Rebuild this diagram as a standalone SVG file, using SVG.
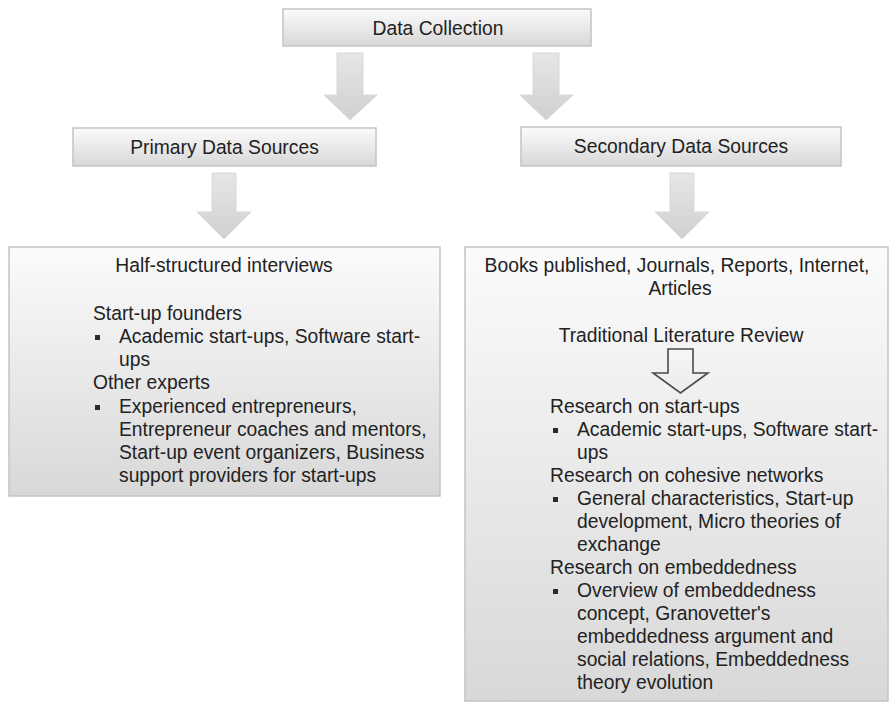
<svg xmlns="http://www.w3.org/2000/svg" width="890" height="705" viewBox="0 0 890 705">
  <defs>
    <linearGradient id="boxFill" x1="0" y1="0" x2="0" y2="1">
      <stop offset="0" stop-color="#fbfbfb"/>
      <stop offset="1" stop-color="#d8d8d8"/>
    </linearGradient>
    <linearGradient id="arrowFill" x1="0" y1="0" x2="0" y2="1">
      <stop offset="0" stop-color="#e6e6e6"/>
      <stop offset="1" stop-color="#d0d0d0"/>
    </linearGradient>
    <linearGradient id="hollowFill" x1="0" y1="0" x2="0" y2="1">
      <stop offset="0" stop-color="#f7f7f7"/>
      <stop offset="1" stop-color="#ebebeb"/>
    </linearGradient>
  </defs>
  <style>
    .box { fill: url(#boxFill); stroke: #c4c4c4; stroke-width: 1.5; }
    .arrow { fill: url(#arrowFill); stroke: #d8d8d8; stroke-width: 1; }
    .hollow { fill: url(#hollowFill); stroke: #4a4a4a; stroke-width: 1.6; stroke-linejoin: miter; }
    text { font-family: "Liberation Sans", Arial, sans-serif; font-size: 19.3px; fill: #222222; }
    .c { text-anchor: middle; }
    .bullet { fill: #2a2a2a; }
  </style>

  <!-- block arrows between the levels -->
  <g id="connectors">
    <polygon class="arrow" points="337,53 363,53 363,95 377,95 350,120 324,95 337,95"/>
    <polygon class="arrow" points="533,53 559,53 559,95 573,95 546,120 520,95 533,95"/>
    <polygon class="arrow" points="212,173 236,173 236,212 251,212 224,239 197,212 212,212"/>
    <polygon class="arrow" points="670,173 694,173 694,212 709,212 682,239 655,212 670,212"/>
  </g>

  <g id="data-collection">
    <rect class="box" x="283" y="9" width="308" height="37"/>
    <text class="c" x="438" y="35">Data Collection</text>
  </g>

  <g id="primary-sources">
    <rect class="box" x="73" y="128" width="303" height="38"/>
    <text class="c" x="224.5" y="154">Primary Data Sources</text>
  </g>

  <g id="secondary-sources">
    <rect class="box" x="521" y="127" width="320" height="39"/>
    <text class="c" x="681" y="153">Secondary Data Sources</text>
  </g>

  <g id="primary-details">
    <rect class="box" x="9" y="247" width="431" height="249"/>
    <text class="c" x="224" y="272">Half-structured interviews</text>
    <text x="93" y="320">Start-up founders</text>
    <rect class="bullet" x="95" y="335" width="5" height="5"/>
    <text x="119" y="343">Academic start-ups, Software start-</text>
    <text x="119" y="366">ups</text>
    <text x="93" y="389">Other experts</text>
    <rect class="bullet" x="95" y="405" width="5" height="5"/>
    <text x="119" y="413">Experienced entrepreneurs,</text>
    <text x="119" y="436">Entrepreneur coaches and mentors,</text>
    <text x="119" y="459">Start-up event organizers, Business</text>
    <text x="119" y="482">support providers for start-ups</text>
  </g>

  <g id="secondary-details">
    <rect class="box" x="465" y="247" width="423" height="454"/>
    <text class="c" x="677" y="272">Books published, Journals, Reports, Internet,</text>
    <text class="c" x="680" y="295">Articles</text>
    <text class="c" x="681" y="342">Traditional Literature Review</text>
    <polygon class="hollow" points="668,349 693,349 693,373 708,373 680.5,393 653,373 668,373"/>
    <text x="550" y="413">Research on start-ups</text>
    <rect class="bullet" x="553" y="428" width="5" height="5"/>
    <text x="577" y="436">Academic start-ups, Software start-</text>
    <text x="577" y="459">ups</text>
    <text x="550" y="482">Research on cohesive networks</text>
    <rect class="bullet" x="553" y="497" width="5" height="5"/>
    <text x="577" y="505">General characteristics, Start-up</text>
    <text x="577" y="528">development, Micro theories of</text>
    <text x="577" y="551">exchange</text>
    <text x="550" y="574">Research on embeddedness</text>
    <rect class="bullet" x="553" y="589" width="5" height="5"/>
    <text x="577" y="597">Overview of embeddedness</text>
    <text x="577" y="620">concept, Granovetter's</text>
    <text x="577" y="643">embeddedness argument and</text>
    <text x="577" y="666">social relations, Embeddedness</text>
    <text x="577" y="689">theory evolution</text>
  </g>
</svg>
